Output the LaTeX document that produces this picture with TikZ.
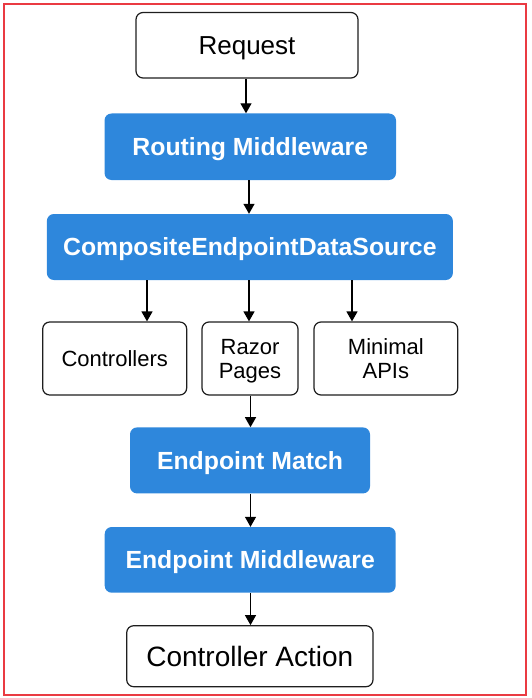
\documentclass[tikz,border=0pt]{standalone}
\usepackage{fontspec}
\setmainfont{Liberation Sans}
\usetikzlibrary{arrows.meta}
\definecolor{boxblue}{RGB}{46,135,220}
\definecolor{framered}{RGB}{234,58,66}
\definecolor{edgegray}{RGB}{30,30,30}
\begin{document}
\begin{tikzpicture}[x=1pt,y=-1pt,
  whitebox/.style={draw=edgegray, line width=1.2pt, rounded corners=7pt, fill=white,
    inner sep=0pt, align=center, text=black, text depth=0pt},
  bluebox/.style={fill=boxblue, rounded corners=7pt, inner sep=0pt, align=center,
    text=white, font=\fontsize{24.8}{28}\selectfont\bfseries, text height=17.8pt, text depth=0pt},
  smallfont/.style={font=\fontsize{22}{24}\selectfont, text height=15.8pt},
  twoline/.style={text height=39.8pt},
  arr/.style={-{Triangle[width=11pt,length=10pt]}, line width=1.3pt, draw=black}]
\useasboundingbox (0,0) rectangle (531,698);
\draw[framered, line width=2pt] (3.5,4.5) rectangle (526,694.5);

\node[whitebox, minimum width=222pt, minimum height=65.5pt, font=\fontsize{26}{30}\selectfont, text height=18.6pt] (req) at (247,45.25) {Request};
\node[bluebox, minimum width=291.5pt, minimum height=66.5pt] (rm) at (250.25,146.75) {Routing Middleware};
\node[bluebox, minimum width=406pt, minimum height=66pt] (ceds) at (249.85,247) {CompositeEndpointDataSource};
\node[whitebox, smallfont, minimum width=144pt, minimum height=73pt] (ctrl) at (114.7,358.5) {Controllers};
\node[whitebox, smallfont, twoline, minimum width=96pt, minimum height=73pt] (razor) at (250,358.5) {Razor\\Pages};
\node[whitebox, smallfont, twoline, minimum width=143.7pt, minimum height=73pt] (minapi) at (385.85,358.5) {Minimal\\APIs};
\node[bluebox, minimum width=240pt, minimum height=66pt] (em) at (250,460.4) {Endpoint Match};
\node[bluebox, minimum width=291pt, minimum height=65.7pt] (emw) at (250.2,559.85) {Endpoint Middleware};
\node[whitebox, minimum width=246.3pt, minimum height=61pt, font=\fontsize{28}{32}\selectfont, text height=20pt] (ca) at (249.85,656.2) {Controller Action};

\coordinate (xa) at (246,0);
\coordinate (xl) at (147,0);
\coordinate (xm) at (249,0);
\coordinate (xr) at (352,0);
\coordinate (xc) at (250.5,0);

\draw[arr] (req.south -| xa) -- (rm.north -| xa);
\draw[arr] (rm.south -| xm) -- (ceds.north -| xm);
\draw[arr] (ceds.south -| xl) -- (ctrl.north -| xl);
\draw[arr] (ceds.south -| xm) -- (razor.north -| xm);
\draw[arr] (ceds.south -| xr) -- (minapi.north -| xr);
\draw[arr] (razor.south -| xc) -- (em.north -| xc);
\draw[arr] (em.south -| xc) -- (emw.north -| xc);
\draw[arr] (emw.south -| xc) -- (ca.north -| xc);
\end{tikzpicture}
\end{document}
